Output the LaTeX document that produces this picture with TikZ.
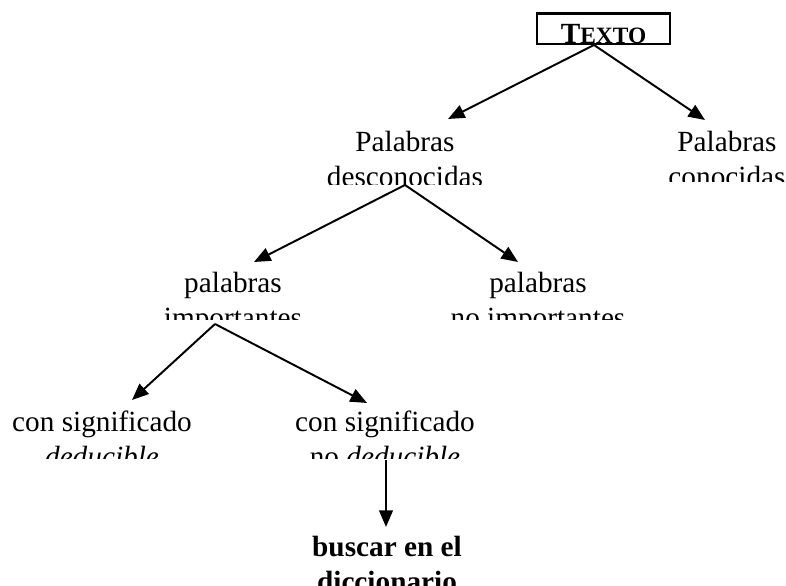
\documentclass[tikz,border=0pt]{standalone}
\usepackage{fontspec}
\setmainfont{Liberation Serif}
\usetikzlibrary{arrows.meta}

\tikzset{
  word/.style={align=center, inner sep=0pt, anchor=base,
    font=\fontsize{12}{14.35}\selectfont},
  box/.style={draw, line width=1.1pt, anchor=base, inner xsep=0pt, inner ysep=0pt,
    minimum width=54.5pt, text height=12.5pt, text depth=0pt,
    font=\fontsize{12}{14.35}\selectfont\bfseries},
  link/.style={line width=0.8pt, -{Triangle[length=6.8pt,width=5.6pt]}}
}

% a word box of the sheet, cut off below at y (placed at its last baseline)
\newcommand{\cutword}[4]{%
  \begin{scope}
    \clip (0,0) rectangle (786,#3);
    \node[word] (#1) at (#2) {#4};
  \end{scope}}

\begin{document}
\begin{tikzpicture}[x=0.41pt, y=-0.41pt]
    \useasboundingbox (0,0) rectangle (786,586);

    % Texto
    \node[box] (texto) at (603.5,44) {T\fontsize{9.6}{11}\selectfont EXTO};

    % Palabras desconocidas / conocidas
    \cutword{desc}{405,187}{185}{Palabras\\desconocidas}
    \cutword{conoc}{727,187}{182}{Palabras\\conocidas}

    % importantes / no importantes
    \cutword{imp}{233,328}{320}{palabras\\importantes}
    \cutword{noimp}{538,328}{320}{palabras\\no importantes}

    % deducible / no deducible
    \cutword{ded}{102,467}{459}{con significado\\\textit{deducible}}
    \cutword{noded}{385,467}{459}{con significado\\no \textit{deducible}}

    % diccionario
    \cutword{dicc}{387,592}{586}{\textbf{buscar en el}\\\textbf{diccionario}}

    % ends of the arrows
    \coordinate (texto-out) at (594,45);
    \coordinate (desc-in) at (448,119);
    \coordinate (conoc-in) at (705,120);
    \coordinate (desc-out) at (405,185);
    \coordinate (imp-in) at (254,262);
    \coordinate (noimp-in) at (518,262);
    \coordinate (imp-out) at (215,324);
    \coordinate (ded-in) at (132,400);
    \coordinate (noded-in) at (367,403);
    \coordinate (noded-out) at (386,460);
    \coordinate (dicc-in) at (386,527);

    \draw[link] (texto-out) -- (desc-in);
    \draw[link] (texto-out) -- (conoc-in);
    \draw[link] (desc-out) -- (imp-in);
    \draw[link] (desc-out) -- (noimp-in);
    \draw[link] (imp-out) -- (ded-in);
    \draw[link] (imp-out) -- (noded-in);
    \draw[link] (noded-out) -- (dicc-in);
\end{tikzpicture}
\end{document}
